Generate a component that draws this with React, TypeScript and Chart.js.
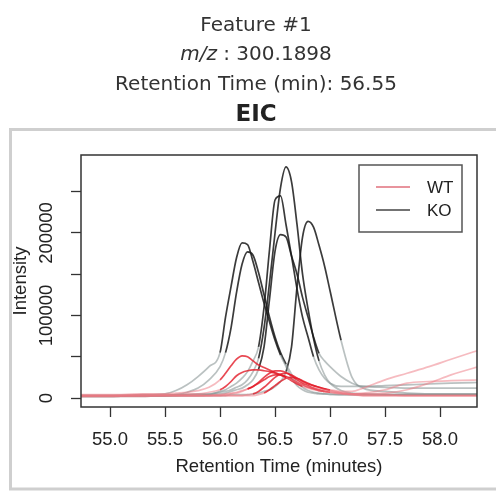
import React, { useEffect, useRef } from "react";
import { Chart, registerables } from "chart.js";

Chart.register(...registerables);

// ---- text ----
const featureTitle = "Feature #1";
const mzLabel = "m/z";
const mzValue = " : 300.1898";
const rtTitle = "Retention Time (min): 56.55";
const plotTitle = "EIC";
const xAxisTitle = "Retention Time (minutes)";
const yAxisTitle = "Intensity";

// ---- data ----
const retentionTimes = [
  54.7, 55.0, 55.3, 55.5, 55.6, 55.7, 55.8, 55.9, 56.0, 56.05, 56.1, 56.15, 56.2, 56.25, 56.3, 56.35, 56.4, 56.45,
  56.5, 56.55, 56.6, 56.65, 56.7, 56.75, 56.8, 56.85, 56.9, 56.95, 57.0, 57.1, 57.2, 57.3, 57.5, 57.7, 57.9, 58.1, 58.4,
];

// intensities in thousands, aligned with retentionTimes
const wt1 = [4, 4, 5, 5, 6, 7, 9, 13, 22, 30, 39, 47, 51, 50, 45, 40, 37, 34, 31, 28, 25, 22, 19, 16, 14, 12, 11, 10, 9, 7, 5, 4, 4, 3, 3, 3, 3];
const wt2 = [3, 3, 4, 4, 4, 5, 5, 7, 10, 14, 20, 27, 31, 33, 34, 34, 33, 32, 30, 28, 25, 21, 17, 14, 12, 10, 9, 8, 7, 6, 5, 6, 10, 18, 20, 21, 22];
const wt3 = [2, 2, 3, 3, 3, 3, 3, 3, 4, 5, 6, 7, 9, 11, 14, 19, 25, 30, 33, 33, 31, 27, 22, 18, 15, 12, 10, 8, 7, 5, 4, 3, 3, 3, 3, 3, 3];
const wt4 = [3, 3, 3, 3, 3, 3, 3, 3, 3, 3, 3, 3, 3, 4, 5, 8, 13, 19, 25, 29, 30, 28, 24, 20, 17, 15, 13, 11, 10, 8, 8, 12, 22, 30, 38, 47, 60];
const wt5 = [2, 2, 2, 3, 3, 3, 3, 3, 3, 4, 5, 6, 8, 11, 14, 18, 22, 26, 28, 28, 26, 23, 19, 16, 13, 11, 9, 8, 7, 6, 5, 5, 6, 10, 18, 28, 40];
const wt6 = [3, 3, 3, 3, 3, 3, 3, 3, 3, 3, 3, 3, 3, 3, 3, 4, 6, 10, 15, 20, 24, 25, 24, 21, 18, 15, 13, 11, 9, 6, 4, 3, 3, 3, 3, 3, 3];
const ko1 = [3, 3, 4, 5, 9, 16, 26, 38, 55, 98, 135, 170, 188, 186, 165, 140, 115, 92, 70, 52, 38, 24, 15, 10, 7, 6, 5, 5, 4, 4, 4, 4, 4, 4, 4, 4, 4];
const ko2 = [2, 2, 3, 3, 4, 7, 12, 22, 38, 55, 85, 128, 162, 177, 173, 152, 125, 98, 74, 55, 41, 29, 19, 13, 9, 7, 6, 5, 5, 4, 4, 4, 4, 4, 4, 4, 4];
const ko3 = [3, 3, 3, 3, 4, 4, 5, 5, 7, 8, 10, 13, 16, 22, 32, 48, 85, 140, 200, 255, 280, 262, 210, 150, 108, 72, 45, 28, 18, 9, 6, 5, 4, 4, 4, 4, 4];
const ko4 = [2, 2, 3, 3, 3, 3, 3, 4, 8, 10, 14, 18, 24, 32, 45, 62, 110, 180, 240, 245, 210, 172, 132, 98, 74, 50, 34, 24, 18, 14, 14, 14, 15, 16, 17, 18, 19];
const ko5 = [3, 3, 3, 3, 3, 4, 4, 4, 5, 6, 8, 10, 12, 16, 22, 35, 62, 120, 178, 198, 195, 172, 150, 122, 98, 74, 54, 45, 38, 26, 18, 14, 13, 12, 12, 12, 12];
const ko6 = [2, 2, 2, 3, 3, 3, 3, 3, 3, 3, 4, 4, 4, 4, 5, 6, 8, 10, 14, 20, 32, 62, 135, 195, 214, 207, 185, 160, 130, 70, 25, 12, 8, 6, 5, 5, 5];

const sampleNames = ["WT1", "WT2", "WT3", "WT4", "WT5", "WT6", "KO1", "KO2", "KO3", "KO4", "KO5", "KO6"];
const sampleGroups = ["WT", "WT", "WT", "WT", "WT", "WT", "KO", "KO", "KO", "KO", "KO", "KO"];
const sampleIntensitiesK = [wt1, wt2, wt3, wt4, wt5, wt6, ko1, ko2, ko3, ko4, ko5, ko6];
// integrated peak region of each sample (min)
const peakStarts = [55.95, 56.0, 56.25, 56.3, 56.25, 56.4, 56.0, 56.05, 56.35, 56.35, 56.35, 56.6];
const peakEnds = [56.6, 56.75, 57.0, 57.0, 56.95, 57.0, 56.55, 56.6, 56.9, 56.85, 56.9, 57.1];

const xTicks = [55.0, 55.5, 56.0, 56.5, 57.0, 57.5, 58.0];
const xTickLabels = ["55.0", "55.5", "56.0", "56.5", "57.0", "57.5", "58.0"];
const yTicks = [0, 50000, 100000, 150000, 200000, 250000];
const yTickLabels = ["0", "", "100000", "", "200000", ""];
const legendGroups = ["WT", "KO"];

// ---- styles ----
const PALETTE: Record<string, { dark: string; light: string; legend: string }> = {
  WT: { dark: "rgba(226,28,40,0.8)", light: "rgba(238,120,130,0.5)", legend: "#e0707c" },
  KO: { dark: "rgba(25,25,25,0.85)", light: "rgba(130,142,142,0.55)", legend: "#444444" },
};
const SANS = "'Liberation Sans', Arial, Helvetica, sans-serif";
const TITLE_FONT = "'DejaVu Sans', Verdana, sans-serif";

const decor = {
  id: "decor",
  beforeDraw(chart: any) {
    const ctx = chart.ctx as CanvasRenderingContext2D;
    ctx.save();
    ctx.fillStyle = "#ffffff";
    ctx.fillRect(0, 0, chart.width, chart.height);
    // outer frame
    ctx.strokeStyle = "#cfcfcf";
    ctx.lineWidth = 3;
    ctx.strokeRect(10.5, 129.5, 540, 359.5);
    // titles
    const cx = 256;
    ctx.fillStyle = "#333333";
    ctx.textBaseline = "alphabetic";
    ctx.textAlign = "center";
    ctx.font = `20px ${TITLE_FONT}`;
    ctx.fillText(featureTitle, cx, 31);
    ctx.fillText(rtTitle, cx, 90);
    ctx.font = `italic 20px ${TITLE_FONT}`;
    const w1 = ctx.measureText(mzLabel).width;
    ctx.font = `20px ${TITLE_FONT}`;
    const w2 = ctx.measureText(mzValue).width;
    const sx = cx - (w1 + w2) / 2;
    ctx.textAlign = "left";
    ctx.font = `italic 20px ${TITLE_FONT}`;
    ctx.fillText(mzLabel, sx, 60);
    ctx.font = `20px ${TITLE_FONT}`;
    ctx.fillText(mzValue, sx + w1, 60);
    ctx.textAlign = "center";
    ctx.fillStyle = "#222222";
    ctx.font = `bold 23px ${TITLE_FONT}`;
    ctx.fillText(plotTitle, cx, 121);
    ctx.restore();
  },
  afterDraw(chart: any) {
    const ctx = chart.ctx as CanvasRenderingContext2D;
    const a = chart.chartArea;
    const xs = chart.scales.x;
    const ys = chart.scales.y;
    ctx.save();
    // plot box
    ctx.strokeStyle = "#333333";
    ctx.lineWidth = 1.5;
    ctx.strokeRect(a.left, a.top, a.right - a.left, a.bottom - a.top);
    ctx.fillStyle = "#222222";
    ctx.font = `18.5px ${SANS}`;
    ctx.textAlign = "center";
    ctx.textBaseline = "middle";
    // x tick labels
    xTicks.forEach((v, i) => {
      ctx.fillText(xTickLabels[i], xs.getPixelForValue(v), 440);
    });
    // y tick labels (rotated, as in R)
    yTicks.forEach((v, i) => {
      const lab = yTickLabels[i];
      if (!lab) return;
      const y = ys.getPixelForValue(v);
      ctx.save();
      ctx.translate(47, y);
      ctx.rotate(-Math.PI / 2);
      ctx.fillText(lab, 0, 0);
      ctx.restore();
    });
    // axis titles
    ctx.save();
    ctx.translate(21, (a.top + a.bottom) / 2);
    ctx.rotate(-Math.PI / 2);
    ctx.fillText(yAxisTitle, 0, 0);
    ctx.restore();
    ctx.fillText(xAxisTitle, (a.left + a.right) / 2, 467);
    // legend
    const lx = 359, ly = 165, lw = 103, lh = 67;
    ctx.fillStyle = "#ffffff";
    ctx.fillRect(lx, ly, lw, lh);
    ctx.strokeStyle = "#555555";
    ctx.lineWidth = 1.5;
    ctx.strokeRect(lx, ly, lw, lh);
    ctx.font = `17px ${SANS}`;
    ctx.textAlign = "left";
    legendGroups.forEach((g, i) => {
      const y = 187 + i * 23;
      ctx.strokeStyle = PALETTE[g].legend;
      ctx.lineWidth = 1.5;
      ctx.beginPath();
      ctx.moveTo(376, y);
      ctx.lineTo(410, y);
      ctx.stroke();
      ctx.fillStyle = "#222222";
      ctx.fillText(g, 427, y + 1);
    });
    ctx.restore();
  },
};

export default function App() {
  const ref = useRef<HTMLCanvasElement>(null);
  useEffect(() => {
    const canvas = ref.current;
    if (!canvas) return;
    const datasets = sampleNames.map((name, s) => {
      const pal = PALETTE[sampleGroups[s]];
      const lo = peakStarts[s];
      const hi = peakEnds[s];
      return {
        label: name,
        data: retentionTimes.map((t, i) => ({ x: t, y: sampleIntensitiesK[s][i] * 1000 })),
        borderColor: pal.light,
        borderWidth: 1.7,
        pointRadius: 0,
        fill: false,
        cubicInterpolationMode: "monotone" as const,
        segment: {
          borderColor: (c: any) =>
            c.p0.parsed.x >= lo - 1e-9 && c.p1.parsed.x <= hi + 1e-9 ? pal.dark : pal.light,
        },
      };
    });
    const tickGrid = {
      display: true,
      drawOnChartArea: false,
      drawTicks: true,
      tickLength: 10,
      tickColor: "#333333",
      tickWidth: 1.3,
    };
    const chart = new Chart(canvas, {
      type: "line",
      data: { datasets },
      options: {
        animation: false,
        responsive: false,
        devicePixelRatio: 1,
        layout: { padding: { left: 71, top: 155, right: 19, bottom: 77 } },
        plugins: { legend: { display: false }, tooltip: { enabled: false }, title: { display: false } },
        scales: {
          x: {
            type: "linear",
            min: 54.736,
            max: 58.336,
            afterBuildTicks: (s: any) => {
              s.ticks = xTicks.map((v) => ({ value: v }));
            },
            afterFit: (s: any) => {
              s.height = 10;
            },
            grid: tickGrid,
            border: { display: false },
            ticks: { display: false },
          },
          y: {
            type: "linear",
            min: -10900,
            max: 294500,
            afterBuildTicks: (s: any) => {
              s.ticks = yTicks.map((v) => ({ value: v }));
            },
            afterFit: (s: any) => {
              s.width = 10;
            },
            grid: tickGrid,
            border: { display: false },
            ticks: { display: false },
          },
        },
      } as any,
      plugins: [decor],
    });
    return () => chart.destroy();
  }, []);
  return (
    <div style={{ position: "fixed", left: 0, top: 0, width: 496, height: 494, background: "#fff" }}>
      <canvas ref={ref} width={496} height={494} style={{ display: "block", width: 496, height: 494 }} />
    </div>
  );
}
